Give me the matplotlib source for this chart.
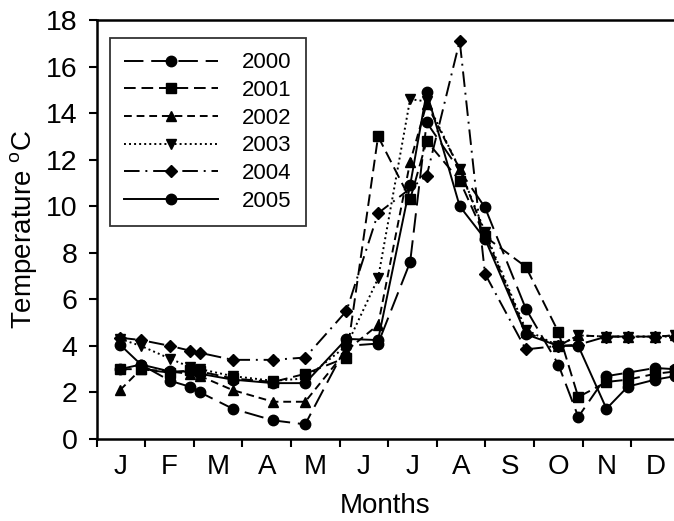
import numpy as np
import matplotlib
matplotlib.use("Agg")
import matplotlib.pyplot as plt

plt.rcParams['font.family'] = ['Liberation Sans', 'DejaVu Sans']
plt.rcParams['mathtext.fontset'] = 'custom'
plt.rcParams['mathtext.rm'] = 'Liberation Sans'

# sampling positions, in months from 1 January
sample_pos = [0.48, 0.91, 1.51, 1.91, 2.13, 2.80, 3.63, 4.29, 5.14, 5.79, 6.45,
              6.79, 7.47, 7.99, 8.83, 9.50, 9.91, 10.49, 10.93, 11.49, 11.90]

nan = np.nan
t2000 = [3.0, 3.2, 2.5, 2.25, 2.0, 1.3, 0.8, 0.63, 4.0, 4.1, 7.6,
         13.6, nan, 9.95, 5.6, 3.2, 0.95, 2.7, 2.85, 3.05, 3.0]
t2001 = [3.0, 3.0, 2.85, 2.95, 2.9, 2.6, 2.45, 2.8, 3.5, 13.0, 10.3,
         12.8, 11.1, 8.7, 7.4, 4.6, 1.8, 2.45, 2.55, 2.8, 2.9]
t2002 = [2.1, 3.0, 2.9, 2.8, 2.7, 2.1, 1.6, 1.6, 3.8, 4.9, 11.9,
         14.4, 11.6, 8.8, 4.6, 4.0, 4.45, 4.4, 4.4, 4.4, 4.45]
t2003 = [4.3, 4.0, 3.45, 3.1, 3.0, 2.7, 2.5, 2.6, 4.0, 6.9, 14.6,
         14.5, 11.6, 8.9, 4.7, 4.0, 4.45, 4.4, 4.4, 4.4, 4.45]
t2004 = [4.35, 4.25, 4.0, 3.8, 3.7, 3.4, 3.4, 3.5, 5.5, 9.7, nan,
         11.3, 17.1, 7.1, 3.85, 4.0, 4.05, 4.4, 4.4, 4.4, 4.4]
t2005 = [4.05, 3.2, 2.9, 2.9, 2.8, 2.55, 2.4, 2.4, 4.3, 4.25, 10.9,
         14.9, 10.0, 8.6, 4.5, 4.0, 4.0, 1.3, 2.25, 2.55, 2.7]

years = ["2000", "2001", "2002", "2003", "2004", "2005"]
month_labels = ["J", "F", "M", "A", "M", "J", "J", "A", "S", "O", "N", "D"]

series = [t2000, t2001, t2002, t2003, t2004, t2005]
styles = [
    {"ls": (0, (10, 4)), "marker": "o"},
    {"ls": (0, (6, 3)), "marker": "s"},
    {"ls": (0, (4, 2.5)), "marker": "^"},
    {"ls": (0, (1, 1.6)), "marker": "v"},
    {"ls": (0, (8, 3, 1, 3)), "marker": "D"},
    {"ls": "-", "marker": "o"},
]

fig = plt.figure(figsize=(6.74, 5.21), dpi=100)
ax = fig.add_axes([0.1435, 0.1574, 0.8565, 0.8042])

x_all = np.array(sample_pos)
for name, vals, st in zip(years, series, styles):
    v = np.array(vals, dtype=float)
    ok = ~np.isnan(v)
    ms = 6.5 if st["marker"] == "D" else 7.5
    ax.plot(x_all[ok], v[ok], color="black", linestyle=st["ls"], linewidth=1.4,
            marker=st["marker"], markersize=ms, markerfacecolor="black",
            markeredgecolor="black", label=name, clip_on=True)

ax.set_xlim(0, 11.88)
ax.set_ylim(0, 18)
ax.set_yticks(np.arange(0, 19, 2))
ax.set_xticks(np.arange(0, 12))
ax.set_xticklabels([])
ax.set_xticks(np.arange(0.5, 12, 1), minor=True)
ax.set_xticklabels(month_labels, minor=True)
ax.tick_params(axis="x", which="minor", length=0, labelsize=20, pad=11)
ax.tick_params(axis="x", which="major", length=6, width=1.5, direction="out")
ax.tick_params(axis="y", length=6, width=1.5, direction="out", labelsize=20.5, pad=8)

for side in ["left", "bottom", "top"]:
    ax.spines[side].set_linewidth(1.8)
ax.spines["right"].set_visible(False)

ax.set_xlabel("Months", fontsize=20, labelpad=9)
ax.set_ylabel("Temperature $^{\\mathrm{o}}$C", fontsize=20, labelpad=4)

leg = ax.legend(loc="upper left", bbox_to_anchor=(0.023, 0.957), fontsize=16,
                frameon=True, fancybox=False, edgecolor="black",
                handlelength=4.2, handletextpad=1.1, labelspacing=0.3,
                borderpad=0.65, borderaxespad=0)
leg.get_frame().set_linewidth(1.3)
for h in leg.legend_handles:
    h.set_markevery([1])

plt.savefig("out.png", dpi=100)
